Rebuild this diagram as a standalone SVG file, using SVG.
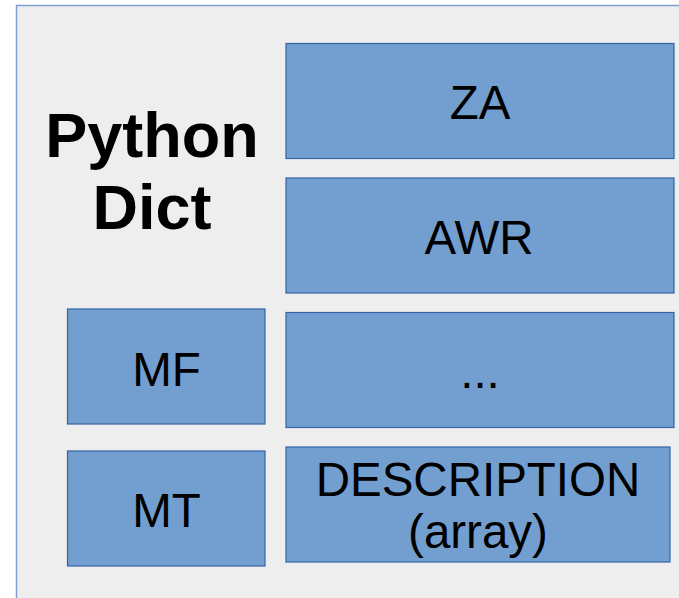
<svg xmlns="http://www.w3.org/2000/svg" width="679" height="598" viewBox="0 0 679 598">
<style>
.box{fill:#729fcf;stroke:#3465a4;stroke-width:1.2}
.lbl{font-family:"Liberation Sans",Arial,sans-serif;font-size:47.5px;fill:#000;text-anchor:middle}
.title{font-family:"Liberation Sans",Arial,sans-serif;font-size:63px;font-weight:bold;fill:#000;text-anchor:middle}
</style>
<rect x="0" y="0" width="679" height="598" fill="#ffffff"/>
<g id="panel">
<rect x="16.5" y="5.5" width="700" height="640" fill="#eeeeee" stroke="#7e9fcf" stroke-width="1.5"/>
<text class="title" x="152" y="157">Python</text>
<text class="title" x="152" y="229">Dict</text>
</g>
<g id="za"><rect class="box" x="286" y="43.5" width="388" height="115"/><text class="lbl" x="480" y="118.5">ZA</text></g>
<g id="awr"><rect class="box" x="286" y="178" width="388" height="115"/><text class="lbl" x="479" y="253.5">AWR</text></g>
<g id="more"><rect class="box" x="286" y="312.5" width="388" height="115"/><text class="lbl" x="480" y="388">...</text></g>
<g id="desc"><rect class="box" x="286" y="447" width="384" height="115"/><text class="lbl" x="478" y="495.5">DESCRIPTION</text><text class="lbl" x="478" y="548">(array)</text></g>
<g id="mf"><rect class="box" x="67.5" y="309" width="197.5" height="115"/><text class="lbl" x="166.5" y="385.5">MF</text></g>
<g id="mt"><rect class="box" x="67.5" y="451" width="197.5" height="115"/><text class="lbl" x="166.5" y="527">MT</text></g>
<g id="connectors"/>
</svg>
